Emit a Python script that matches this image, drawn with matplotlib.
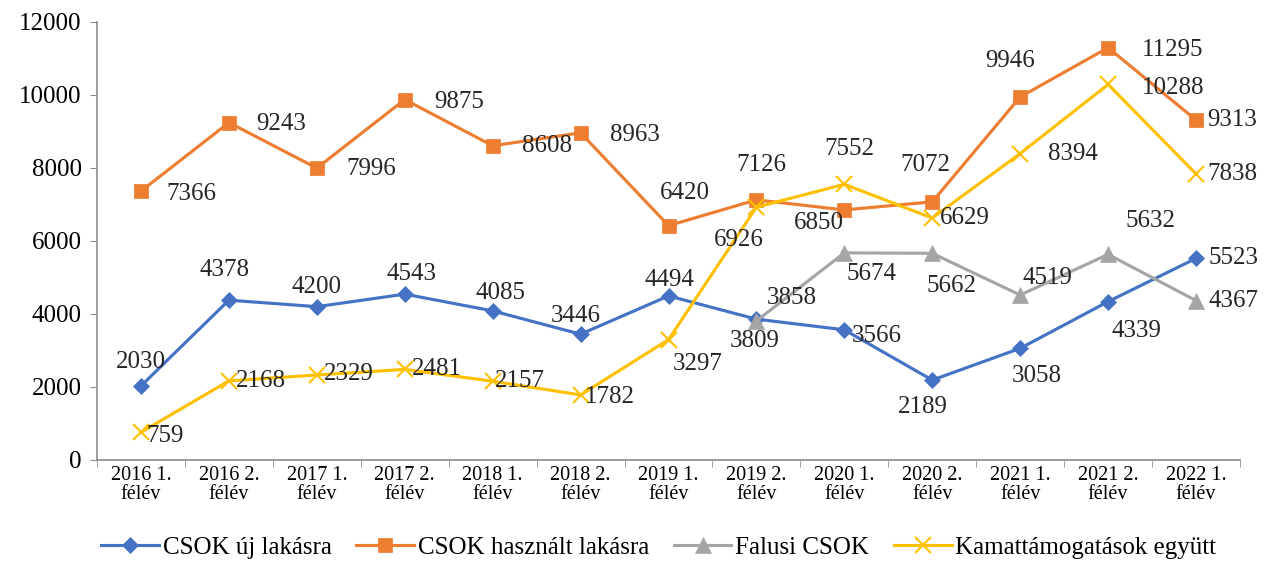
import matplotlib.pyplot as plt
import numpy as np

plt.rcParams['font.family'] = ['Liberation Serif', 'DejaVu Serif']

categories = ["2016 1.\nfélév", "2016 2.\nfélév", "2017 1.\nfélév", "2017 2.\nfélév",
              "2018 1.\nfélév", "2018 2.\nfélév", "2019 1.\nfélév", "2019 2.\nfélév",
              "2020 1.\nfélév", "2020 2.\nfélév", "2021 1.\nfélév", "2021 2.\nfélév",
              "2022 1.\nfélév"]

csok_uj = [2030, 4378, 4200, 4543, 4085, 3446, 4494, 3858, 3566, 2189, 3058, 4339, 5523]
csok_hasznalt = [7366, 9243, 7996, 9875, 8608, 8963, 6420, 7126, 6850, 7072, 9946, 11295, 9313]
falusi = [None] * 7 + [3809, 5674, 5662, 4519, 5632, 4367]
kamat = [759, 2168, 2329, 2481, 2157, 1782, 3297, 6926, 7552, 6629, 8394, 10288, 7838]

# label offsets in pixels (dx, dy; dy positive = down on screen)
off_uj = [(0, -24), (-4, -30), (0, -20), (7, -20), (8, -18), (-5, -18), (1, -16),
          (35, -21), (32, 6), (-9, 27), (17, 28), (28, 29), (37, 0)]
off_hasznalt = [(50, 3), (52, 1), (54, 1), (54, 2), (54, 0), (54, 2), (16, -33),
                (5, -35), (-25, 13), (-7, -37), (-10, -36), (65, 2), (36, 0)]
off_falusi = [None] * 7 + [(-2, 20), (27, 21), (19, 33), (27, -17), (42, -33), (37, 0)]
off_kamat = [(24, 4), (32, 0), (32, -1), (32, 0), (27, 0), (29, 2), (29, 24),
             (-18, 33), (5, -35), (33, 0), (53, 0), (65, 4), (36, 0)]

series = [
    ("CSOK új lakásra", csok_uj, off_uj, "#4472C4", "D", 8),
    ("CSOK használt lakásra", csok_hasznalt, off_hasznalt, "#ED7D31", "s", 10.5),
    ("Falusi CSOK", falusi, off_falusi, "#A5A5A5", "^", 11),
    ("Kamattámogatások együtt", kamat, off_kamat, "#FFC000", "x", 12),
]

fig = plt.figure(figsize=(12.77, 5.63), dpi=100)
ax = fig.add_axes([0.076, 0.183, 0.895, 0.778])

x = np.arange(len(categories))
for name, vals, offs, color, mk, ms in series:
    y = np.array([np.nan if v is None else v for v in vals], dtype=float)
    ax.plot(x, y, color=color, lw=2.25, marker=mk, markersize=ms,
            markeredgewidth=1.5 if mk == "x" else 0.5, label=name)
    for xi, v, o in zip(x, vals, offs):
        if v is None:
            continue
        ax.annotate(str(v), (xi, v), xytext=(o[0], -o[1]), textcoords="offset pixels",
                    ha="center", va="center", fontsize=18, color="#262626")

ax.set_xlim(-0.5, len(categories) - 0.5)
ax.set_ylim(0, 12000)
ax.set_yticks(range(0, 12001, 2000))
ax.set_xticks(x)
ax.set_xticklabels(categories, fontsize=14.5, linespacing=1.05)
ax.set_xticks(np.arange(-0.5, len(categories)), minor=True)
ax.tick_params(axis="x", which="major", length=0, pad=4)
ax.tick_params(axis="x", which="minor", length=5, color="#8c8c8c")
ax.tick_params(axis="y", labelsize=18, length=5, color="#8c8c8c", pad=6)
for s in ["top", "right"]:
    ax.spines[s].set_visible(False)
for s in ["left", "bottom"]:
    ax.spines[s].set_color("#8c8c8c")
    ax.spines[s].set_linewidth(1.2)

fig.legend(loc="center", bbox_to_anchor=(0.516, 0.027), ncol=4, frameon=False,
           fontsize=18, handlelength=2.3, columnspacing=1.0, handletextpad=0.15)

fig.savefig("out.png", dpi=100)
